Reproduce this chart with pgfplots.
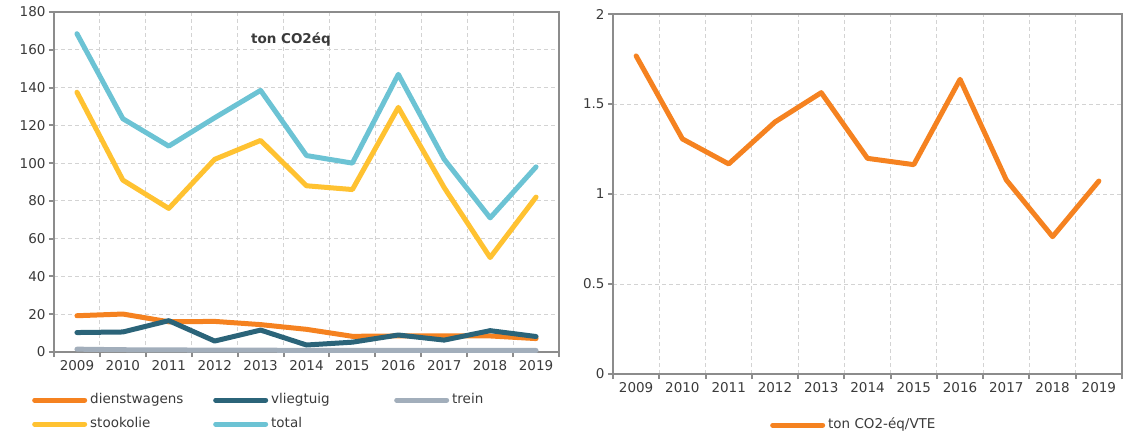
\documentclass[border=0pt]{standalone}
\usepackage{fontspec}
\setmainfont{DejaVu Sans}
\usepackage{pgfplots}
\pgfplotsset{compat=1.18}

\definecolor{cOrange}{HTML}{F58220}
\definecolor{cTeal}{HTML}{2B6479}
\definecolor{cGray}{HTML}{A2AEBB}
\definecolor{cYellow}{HTML}{FFC231}
\definecolor{cCyan}{HTML}{6CC3D4}
\definecolor{axisGray}{HTML}{8C8C8C}
\definecolor{gridGray}{HTML}{D3D3D3}
\definecolor{txt}{HTML}{3A3A3A}

\pgfplotsset{
  base/.style={
    scale only axis,
    xmin=-0.5, xmax=10.5,
    xtick={-0.5,0.5,...,10.5},
    x tick label as interval,
    xticklabels={2009,2010,2011,2012,2013,2014,2015,2016,2017,2018,2019},
    grid=major,
    major grid style={gridGray, dash pattern=on 4pt off 3pt, line width=1pt},
    axis line style={axisGray, line width=2.5pt},
    tick style={axisGray, line width=2pt},
    tick align=outside, tick pos=left,
    major tick length=5pt,
    ticklabel style={txt, font=\fontsize{13.5}{15}\selectfont},
    /pgf/number format/assume math mode=true,
    every axis plot/.append style={line width=5pt, line join=round, line cap=round},
    legend image code/.code={\draw[#1, line width=5pt, line cap=round] (2.5pt,0pt) -- (52.5pt,0pt);},
    legend style={draw=none, fill=none, inner sep=0pt, row sep=11pt,
      nodes={inner sep=0pt, text height=10pt, text depth=3pt, anchor=west, txt,
             font=\fontsize{13.5}{15}\selectfont},
      /tikz/every odd column/.append style={column sep=3pt}},
  }
}

\begin{document}
\begin{tikzpicture}
\useasboundingbox (0,0) rectangle (1124pt,437pt);

% left chart: emissions per source
\begin{axis}[base,
  at={(54pt,85pt)}, anchor=south west,
  width=505pt, height=340pt,
  ymin=0, ymax=180, ytick={0,20,...,180},
  legend columns=3,
  legend style={at={(axis description cs:-0.0436,-0.122)}, anchor=north west},
]
\addplot[cOrange] coordinates {(0,19.2) (1,20.1) (2,16) (3,16.2) (4,14.5) (5,12) (6,8.3) (7,8.5) (8,8.5) (9,8.5) (10,7.1)};
\addlegendentry{\makebox[123pt][l]{dienstwagens}}
\addplot[cTeal] coordinates {(0,10.3) (1,10.6) (2,16.6) (3,5.8) (4,11.6) (5,3.7) (6,5.2) (7,9) (8,6.3) (9,11.3) (10,8.2)};
\addlegendentry{\makebox[123pt][l]{vliegtuig}}
\addplot[cGray] coordinates {(0,1.5) (1,1.2) (2,1.1) (3,1) (4,1) (5,0.8) (6,0.9) (7,0.9) (8,0.8) (9,0.8) (10,0.8)};
\addlegendentry{\makebox[123pt][l]{trein}}
\addplot[cYellow] coordinates {(0,137.5) (1,91) (2,76) (3,102) (4,112) (5,88) (6,86) (7,129.5) (8,87) (9,50) (10,82)};
\addlegendentry{\makebox[123pt][l]{stookolie}}
\addplot[cCyan] coordinates {(0,168.5) (1,123.5) (2,109) (3,124) (4,138.5) (5,104) (6,100) (7,147) (8,102) (9,71) (10,98)};
\addlegendentry{\makebox[123pt][l]{total}}
\node[txt, font=\fontsize{13.5}{15}\selectfont\bfseries] at (axis cs:4.66,165.7) {ton CO2éq};
\end{axis}

% right chart: emissions per VTE
\begin{axis}[base,
  at={(613pt,63pt)}, anchor=south west,
  width=509pt, height=360pt,
  ymin=0, ymax=2, ytick={0,0.5,...,2},
  legend style={at={(axis description cs:0.3084,-0.1236)}, anchor=north west},
]
\addplot[cOrange] coordinates {(0,1.767) (1,1.306) (2,1.167) (3,1.40) (4,1.563) (5,1.198) (6,1.163) (7,1.637) (8,1.078) (9,0.763) (10,1.072)};
\addlegendentry{ton CO2-éq/VTE}
\end{axis}
\end{tikzpicture}
\end{document}
